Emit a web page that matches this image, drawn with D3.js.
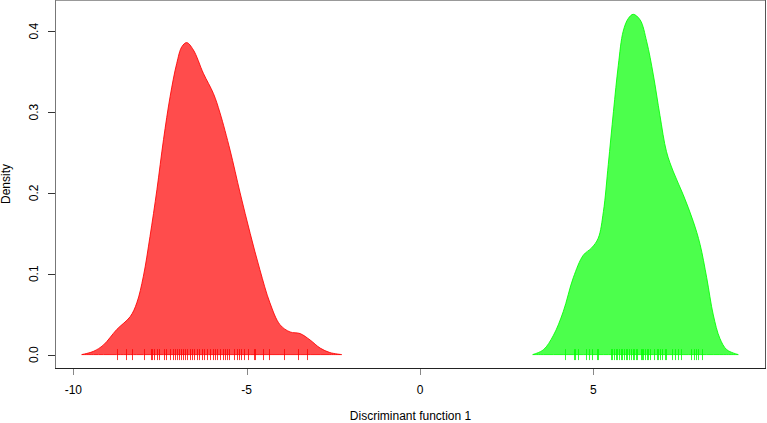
<!DOCTYPE html>
<html>

<head>
  <meta charset="utf-8">
  <title>Discriminant function density</title>
  <style>
    body { margin: 0; background: #fff; }
    svg { display: block; }
    text { font-family: "Liberation Sans", Arial, sans-serif; fill: #000; }
  </style>
</head>

<body>
  <svg width="767" height="423"></svg>
  <script src="https://cdn.jsdelivr.net/npm/d3@7"></script>
  <script>
  // 1. data
  var redX = [-9.76, -9.42, -9.13, -8.75, -8.36, -8.17, -7.98, -7.79, -7.59, -7.40, -7.21, -7.02, -6.87, -6.73,
    -6.54, -6.25, -5.96, -5.77, -5.48, -5.19, -4.90, -4.62, -4.33, -4.04, -3.75, -3.46, -3.17, -2.88, -2.60, -2.26];
  var redY = [0.000, 0.004, 0.012, 0.031, 0.047, 0.064, 0.097, 0.146, 0.204, 0.266, 0.319, 0.360, 0.381, 0.386,
    0.377, 0.348, 0.323, 0.299, 0.253, 0.200, 0.150, 0.105, 0.064, 0.037, 0.028, 0.026, 0.018, 0.008, 0.0025, 0.000];

  var greenX = [3.25, 3.56, 3.85, 4.13, 4.42, 4.71, 4.95, 5.14, 5.29, 5.43, 5.58, 5.72, 5.86, 6.01, 6.15,
    6.35, 6.54, 6.73, 6.92, 7.11, 7.31, 7.59, 7.88, 8.08, 8.27, 8.46, 8.65, 8.85, 9.18];
  var greenY = [0.000, 0.006, 0.024, 0.053, 0.095, 0.123, 0.132, 0.144, 0.177, 0.235, 0.301, 0.358, 0.400, 0.416, 0.421,
    0.414, 0.387, 0.346, 0.296, 0.251, 0.226, 0.198, 0.165, 0.136, 0.095, 0.049, 0.020, 0.006, 0.000];

  var redRug = [-8.73, -8.48, -8.30, -7.95, -7.77, -7.72, -7.66, -7.59, -7.53, -7.40, -7.33, -7.21, -7.13, -7.07,
    -7.00, -6.94, -6.89, -6.84, -6.78, -6.73, -6.65, -6.58, -6.51, -6.44, -6.37, -6.30, -6.23, -6.15, -6.06,
    -5.96, -5.91, -5.85, -5.77, -5.69, -5.62, -5.56, -5.51, -5.36, -5.29, -5.22, -5.16, -5.07, -4.95, -4.79,
    -4.76, -4.54, -4.35, -3.91, -3.51, -3.25];
  var greenRug = [4.18, 4.44, 4.47, 4.57, 4.79, 4.88, 4.97, 5.10, 5.14, 5.51, 5.55, 5.60, 5.64, 5.69, 5.74,
    5.79, 5.84, 5.88, 5.93, 5.96, 6.04, 6.08, 6.13, 6.17, 6.23, 6.26, 6.37, 6.39, 6.44, 6.49, 6.54, 6.58,
    6.63, 6.76, 6.83, 6.87, 6.92, 6.97, 7.07, 7.10, 7.28, 7.36, 7.45, 7.53, 7.83, 7.90, 7.97, 8.03, 8.12];

  var xTicks = [-10, -5, 0, 5];
  var yTicks = [0.0, 0.1, 0.2, 0.3, 0.4];

  // 2. scales
  var plotL = 55, plotR = 766, plotT = 0, plotB = 368;
  var x = d3.scaleLinear().domain([-10.53, 9.98]).range([plotL, plotR]);
  var y = d3.scaleLinear().domain([-0.0166, 0.4387]).range([plotB, plotT]);

  var svg = d3.select("svg");

  // 3. density polygons + rugs
  var area = d3.area()
    .x(function(d) { return x(d[0]); })
    .y0(y(0))
    .y1(function(d) { return y(d[1]); })
    .curve(d3.curveCatmullRom);

  var groups = [
    { xs: redX, ys: redY, rug: redRug, col: "#ff0000" },
    { xs: greenX, ys: greenY, rug: greenRug, col: "#00ff00" }
  ];

  groups.forEach(function(g) {
    var pts = g.xs.map(function(v, i) { return [v, g.ys[i]]; });
    svg.append("path")
      .attr("d", area(pts))
      .attr("fill", g.col)
      .attr("fill-opacity", 0.7)
      .attr("stroke", g.col)
      .attr("stroke-opacity", 0.85)
      .attr("stroke-width", 1);

    svg.selectAll(null)
      .data(g.rug)
      .enter()
      .append("line")
      .attr("x1", function(d) { return Math.round(x(d)) + 0.5; })
      .attr("x2", function(d) { return Math.round(x(d)) + 0.5; })
      .attr("y1", y(0) - 5.5)
      .attr("y2", y(0) + 5.5)
      .attr("stroke", g.col)
      .attr("stroke-opacity", 0.8)
      .attr("stroke-width", 1);
  });

  // 4. box and axes
  svg.append("line").attr("x1", plotL).attr("x2", plotR).attr("y1", 0.5).attr("y2", 0.5).attr("stroke", "#999");
  svg.append("line").attr("x1", plotL + 0.5).attr("x2", plotL + 0.5).attr("y1", 0).attr("y2", plotB).attr("stroke", "#777");
  svg.append("line").attr("x1", plotR - 0.5).attr("x2", plotR - 0.5).attr("y1", 0).attr("y2", plotB).attr("stroke", "#555");
  svg.append("line").attr("x1", plotL).attr("x2", plotR).attr("y1", plotB + 0.5).attr("y2", plotB + 0.5).attr("stroke", "#222");

  svg.selectAll(".xt")
    .data(xTicks)
    .enter()
    .append("line")
    .attr("x1", function(d) { return Math.round(x(d)) + 0.5; })
    .attr("x2", function(d) { return Math.round(x(d)) + 0.5; })
    .attr("y1", plotB + 1)
    .attr("y2", plotB + 7)
    .attr("stroke", "#888");

  svg.selectAll(".xl")
    .data(xTicks)
    .enter()
    .append("text")
    .attr("x", function(d) { return x(d); })
    .attr("y", 394)
    .attr("text-anchor", "middle")
    .style("font-size", "12px")
    .text(function(d) { return d; });

  svg.selectAll(".yt")
    .data(yTicks)
    .enter()
    .append("line")
    .attr("x1", plotL - 7)
    .attr("x2", plotL)
    .attr("y1", function(d) { return Math.round(y(d)) + 0.5; })
    .attr("y2", function(d) { return Math.round(y(d)) + 0.5; })
    .attr("stroke", "#333");

  svg.selectAll(".yl")
    .data(yTicks)
    .enter()
    .append("text")
    .attr("transform", function(d) { return "translate(38," + y(d) + ") rotate(-90)"; })
    .attr("text-anchor", "middle")
    .style("font-size", "12px")
    .text(function(d) { return d.toFixed(1); });

  // 5. axis titles
  svg.append("text")
    .attr("x", (plotL + plotR) / 2)
    .attr("y", 420)
    .attr("text-anchor", "middle")
    .style("font-size", "12px")
    .text("Discriminant function 1");

  svg.append("text")
    .attr("transform", "translate(10," + (plotT + plotB) / 2 + ") rotate(-90)")
    .attr("text-anchor", "middle")
    .style("font-size", "12px")
    .text("Density");
  </script>
</body>

</html>
